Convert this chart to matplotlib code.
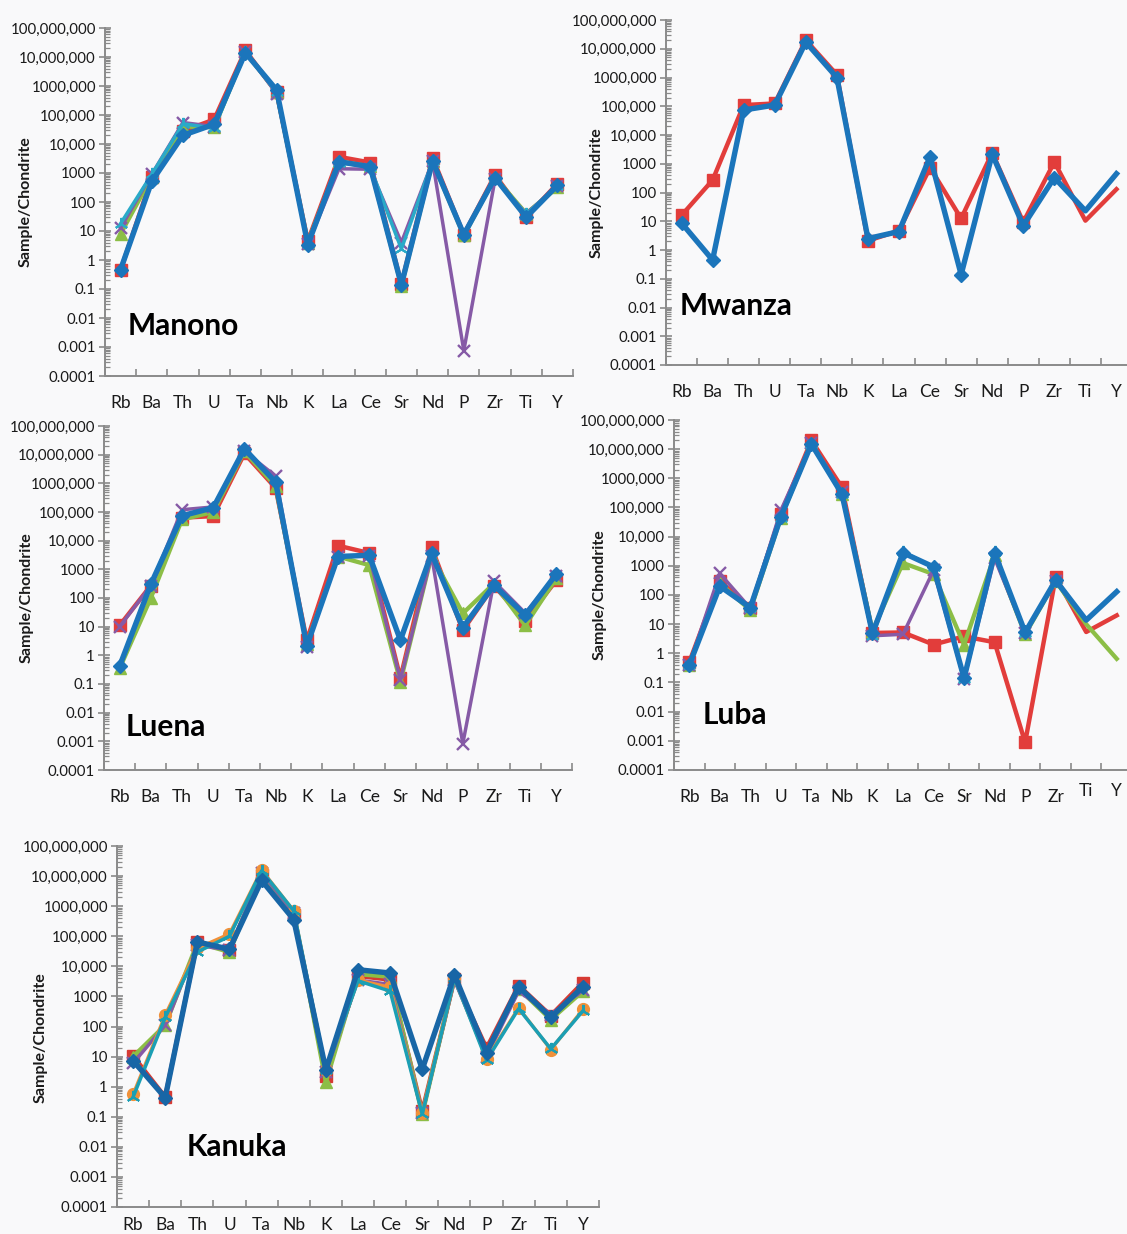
import numpy as np
import matplotlib
matplotlib.use("Agg")
import matplotlib.pyplot as plt
from matplotlib.ticker import FixedLocator, FixedFormatter, LogLocator, NullFormatter
from matplotlib.transforms import ScaledTranslation

nan = np.nan

# ---- data -------------------------------------------------------------
elements = ["Rb", "Ba", "Th", "U", "Ta", "Nb", "K", "La", "Ce", "Sr", "Nd", "P", "Zr", "Ti", "Y"]

y_tick_values = [1e8, 1e7, 1e6, 1e5, 1e4, 1e3, 1e2, 1e1, 1, 0.1, 0.01, 0.001, 0.0001]
y_tick_labels = ["100,000,000", "10,000,000", "1000,000", "100,000", "10,000", "1000",
                 "100", "10", "1", "0.1", "0.01", "0.001", "0.0001"]

# Manono
manono_red = [0.45, 700, 28000, 70000, 1.7e7, 6e5, 4.5, 3600, 2300, 0.15, 3400, 7.5, 850, 30, 430]
manono_green = [8, 750, 40000, 38000, 1.5e7, 6e5, 4, 2500, 1700, 0.13, 2500, 7, 700, 40, 320]
manono_purple = [13, 900, 55000, 40000, 1.5e7, 5.5e5, 3.5, 1400, 1350, 4, 2500, 0.00075, 600, 40, 350]
manono_cyan = [18, 900, 50000, 35000, 1.5e7, 6e5, 3.5, 2300, 1600, 2.4, 2600, 8, 650, 38, 350]
manono_blue = [0.47, 520, 20000, 48000, 1.4e7, 7.3e5, 3.4, 2450, 1650, 0.14, 2600, 7.5, 690, 30, 375]

# Mwanza
mwanza_red = [16, 270, 1.1e5, 1.25e5, 2e7, 1.25e6, 2.1, 4.7, 730, 12.5, 2400, 9.3, 1150, 10.5, 130]
mwanza_blue = [8.7, 0.45, 7.4e4, 1.1e5, 1.7e7, 1.0e6, 2.5, 4.4, 1750, 0.14, 2150, 7, 330, 23, 450]

# Luena
luena_red = [11, 270, 63000, 72000, 1.1e7, 6.9e5, 3.3, 6700, 3700, 0.16, 5900, 7.4, 270, 16, 420]
luena_green = [0.35, 100, 55000, 1e5, 1.3e7, 8e5, 2.5, 2800, 1400, 0.12, 3000, 29, 320, 11, 500]
luena_purple = [10, 270, 1.2e5, 1.5e5, 1.3e7, 1.8e6, 2, 2800, 3000, 0.14, 3000, 0.00083, 380, 30, 600]
luena_blue = [0.42, 300, 74000, 1.4e5, 1.6e7, 1.1e6, 2.1, 2800, 3100, 3.4, 3600, 9.2, 280, 25, 690]

# Luba
luba_red = [0.5, 300, 35, 60000, 2e7, 4.9e5, 5, 5.2, 2, 3.8, 2.4, 0.00088, 410, 5.4, 20]
luba_green = [0.4, 250, 30, 45000, 1.6e7, 3e5, 6, 1250, 520, 2, 2300, 4.5, 300, 10, 0.65]
luba_purple = [0.4, 550, 35, 80000, 1.6e7, 3.5e5, 4, 4.5, 700, 0.13, 1800, 5, 300, nan, nan]
luba_cyan = [0.4, 200, 35, 45000, 1.5e7, 3e5, 4, 3000, 900, 0.13, 3000, 5, 320, nan, nan]
luba_blue = [0.4, 200, 37, 48000, 1.5e7, 2.9e5, 4.8, 2800, 920, 0.14, 2800, 5.2, 320, 13.7, 130]

# Kanuka
kanuka_red = [10.5, 0.45, 65000, 35000, 1.1e7, 5e5, 2.2, 4800, 3600, 0.15, 3800, 19, 2300, 230, 2900]
kanuka_green = [10, 110, 60000, 30000, 1.2e7, 6e5, 1.4, 5500, 4500, 0.12, 4000, 12, 1800, 170, 1500]
kanuka_purple = [6, 110, 50000, 35000, 1.3e7, 6e5, 3, 3500, 2500, 0.13, 3500, 10, 1500, 250, 1600]
kanuka_orange = [0.55, 240, 40000, 1.2e5, 1.6e7, 7e5, 3.5, 3500, 2000, 0.13, 4000, 8.5, 420, 17, 370]
kanuka_cyan = [0.45, 200, 30000, 1e5, 1.5e7, 7e5, 3.5, 3300, 1500, 0.12, 4000, 7.5, 390, 18, 330]
kanuka_blue = [7.3, 0.43, 65000, 37000, 7.2e6, 3.6e5, 3.6, 7700, 6000, 3.8, 5200, 13.6, 2100, 200, 2100]

# ---- styling ----------------------------------------------------------
W, H = 1127, 1234
BG = "#f9f9fa"
AXIS = "#8a8a8a"
TXT = "#1a1a1a"

RED = "#e23d3b"
BLUE = "#1b75bb"
GREEN = "#8cbe46"
PURPLE = "#865aa6"
CYAN = "#2aaac8"
ORANGE = "#f0913a"
K_RED = "#d63a33"
K_BLUE = "#1866a6"
K_TEAL = "#1b9fb4"

STYLE = {
    "red": dict(marker="s", ms=8.5, lw=3.2),
    "green": dict(marker="^", ms=8.5, lw=3.1),
    "purple": dict(marker="x", ms=8.5, lw=2.5, mew=1.7),
    "cyan": dict(marker=(3, 2, 0), ms=9.5, lw=2.5, mew=1.5),
    "orange": dict(marker="o", ms=8.5, lw=2.4),
    "blue": dict(marker="D", ms=7.5, lw=3.9),
}

plt.rcParams["font.family"] = ["Lato", "DejaVu Sans"]

fig = plt.figure(figsize=(W / 100, H / 100), dpi=100, facecolor=BG)


def panel(box, series, title, title_xy, ylabel_right, ylabel_center=0.5,
          cat_pad=14, raised=(), no_marker_tail=False):
    left, right, top, bottom = box
    ax = fig.add_axes([left / W, 1 - bottom / H, (right - left) / W, (bottom - top) / H])
    ax.set_facecolor("none")
    ax.set_yscale("log")
    ax.set_ylim(1e-4, 1e8)
    ax.set_xlim(-0.5, len(elements) - 0.5)

    ax.yaxis.set_major_locator(FixedLocator(y_tick_values))
    ax.yaxis.set_major_formatter(FixedFormatter(y_tick_labels))
    ax.yaxis.set_minor_locator(LogLocator(base=10, subs=np.arange(2, 10), numticks=100))
    ax.yaxis.set_minor_formatter(NullFormatter())

    ax.set_xticks(range(len(elements)))
    ax.set_xticklabels(elements)
    ax.set_xticks(np.arange(-0.5, len(elements), 1.0), minor=True)

    ax.tick_params(axis="x", which="major", length=0, pad=cat_pad, labelsize=12.5, labelcolor=TXT)
    ax.tick_params(axis="x", which="minor", direction="in", length=5, width=1.2, color=AXIS)
    ax.tick_params(axis="y", which="major", direction="inout", length=9, width=1.2,
                   color=AXIS, labelsize=10.8, labelcolor=TXT, pad=2)
    ax.tick_params(axis="y", which="minor", direction="in", length=3.5, width=0.9, color=AXIS)

    for s in ("top", "right"):
        ax.spines[s].set_visible(False)
    for s in ("left", "bottom"):
        ax.spines[s].set_color(AXIS)
        ax.spines[s].set_linewidth(1.4)

    x = np.arange(len(elements))
    for vals, color, kind in series:
        st = dict(STYLE[kind])
        kw = dict(color=color, markerfacecolor=color, markeredgecolor=color,
                  solid_joinstyle="round", clip_on=False)
        if no_marker_tail:
            kw["markevery"] = list(range(len(elements) - 2))
        ax.plot(x, vals, **st, **kw)

    ax.set_ylabel("Sample/Chondrite", fontsize=11.5, fontweight="bold", color=TXT)
    ax.yaxis.set_label_coords((ylabel_right - left) / (right - left), ylabel_center)

    fig.text(title_xy[0] / W, 1 - title_xy[1] / H, title, fontsize=21.5,
             fontweight="bold", color="#000000", ha="left", va="center")

    labels = ax.get_xticklabels()
    for i in raised:
        lab = labels[i]
        lab.set_transform(lab.get_transform() + ScaledTranslation(0, 6 / 100, fig.dpi_scale_trans))
    return ax


panel((105, 573, 28, 376),
      [(manono_red, RED, "red"), (manono_green, GREEN, "green"),
       (manono_purple, PURPLE, "purple"), (manono_cyan, CYAN, "cyan"),
       (manono_blue, BLUE, "blue")],
      "Manono", (128, 326), 33)

panel((666, 1132, 20, 365),
      [(mwanza_red, RED, "red"), (mwanza_blue, BLUE, "blue")],
      "Mwanza", (680, 306), 604, no_marker_tail=True)

panel((104, 572, 426, 770),
      [(luena_red, RED, "red"), (luena_green, GREEN, "green"),
       (luena_purple, PURPLE, "purple"), (luena_blue, BLUE, "blue")],
      "Luena", (126, 727), 34)

panel((674, 1132, 420, 770),
      [(luba_red, RED, "red"), (luba_green, GREEN, "green"),
       (luba_purple, PURPLE, "purple"), (luba_cyan, CYAN, "cyan"),
       (luba_blue, BLUE, "blue")],
      "Luba", (703, 715), 607, raised=(13, 14), no_marker_tail=True)

panel((117, 599, 846, 1207),
      [(kanuka_red, K_RED, "red"), (kanuka_green, GREEN, "green"),
       (kanuka_purple, PURPLE, "purple"), (kanuka_orange, ORANGE, "orange"),
       (kanuka_cyan, K_TEAL, "cyan"), (kanuka_blue, K_BLUE, "blue")],
      "Kanuka", (187, 1147), 48, ylabel_center=0.47, cat_pad=7.5)

fig.savefig("out.png", dpi=100, facecolor=BG)
